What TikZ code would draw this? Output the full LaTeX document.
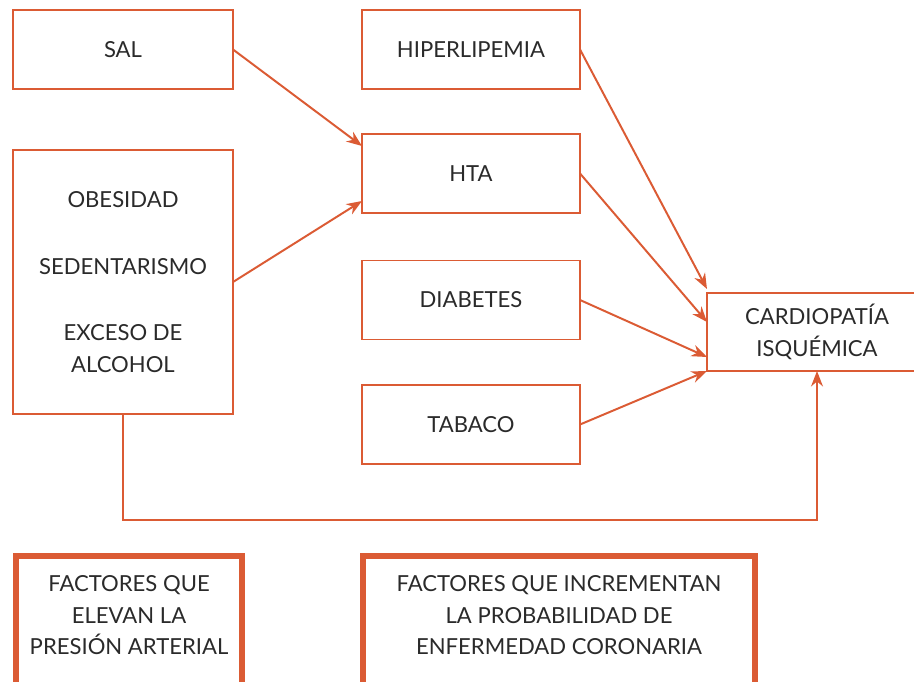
\documentclass[tikz,border=0pt]{standalone}
\usepackage{fontspec}
\setmainfont{Lato}
\usetikzlibrary{arrows.meta,calc}
\definecolor{teja}{HTML}{DB5B34}
\definecolor{tinta}{HTML}{2A2A2A}

\begin{document}
\begin{tikzpicture}[x=0.025cm,y=-0.025cm,>={Stealth[length=11pt,width=8.5pt]},
 factor/.style={draw=teja,line width=1.4pt,align=center,inner sep=0pt,outer sep=0pt,text=tinta,font=\fontsize{15.7}{22.5}\selectfont},
 riesgo/.style={factor,minimum width=5.45cm,minimum height=1.975cm},
 leyenda/.style={factor,line width=4.3pt,anchor=north,inner ysep=13.8pt,text depth=4cm},
 causal/.style={->,teja,line width=1.4pt}]
\useasboundingbox (0,0) rectangle (914,682);
\node[factor,minimum width=5.5cm,minimum height=1.975cm] (sal) at (123,49.5) {SAL};
\node[factor,minimum width=5.5cm,minimum height=6.6cm] (obes) at (123,282) {OBESIDAD\\[25pt]SEDENTARISMO\\[25pt]EXCESO DE\\ALCOHOL};
\node[riesgo] (hiper) at (471,49.5) {HIPERLIPEMIA};
\node[riesgo] (hta) at (471,173.5) {HTA};
\node[riesgo] (diab) at (471,300) {DIABETES};
\node[riesgo] (tabaco) at (471,424.5) {TABACO};
\node[factor,minimum width=5.5cm,minimum height=1.95cm] (cardio) at (817,332) {CARDIOPATÍA\\ISQUÉMICA};
\node[leyenda,minimum width=5.65cm] (ley1) at (129,556) {FACTORES QUE\\ELEVAN LA\\PRESIÓN ARTERIAL};
\node[leyenda,minimum width=9.8cm] (ley2) at (559,556) {FACTORES QUE INCREMENTAN\\LA PROBABILIDAD DE\\ENFERMEDAD CORONARIA};
\draw[causal] (sal.east) -- ($(hta.north west)+(0,12)$);
\draw[causal] (obes.east) -- ($(hta.south west)+(0,-12)$);
\draw[causal] (hiper.east) -- ($(cardio.north west)+(0,-4)$);
\draw[causal] (hta.east) -- ($(cardio.north west)+(0,29)$);
\draw[causal] (diab.east) -- ($(cardio.north west)+(0,64)$);
\draw[causal] (tabaco.east) -- (cardio.south west);
\draw[causal] (obes.south) -- ++(0,106) -| (cardio.south);
\end{tikzpicture}
\end{document}
